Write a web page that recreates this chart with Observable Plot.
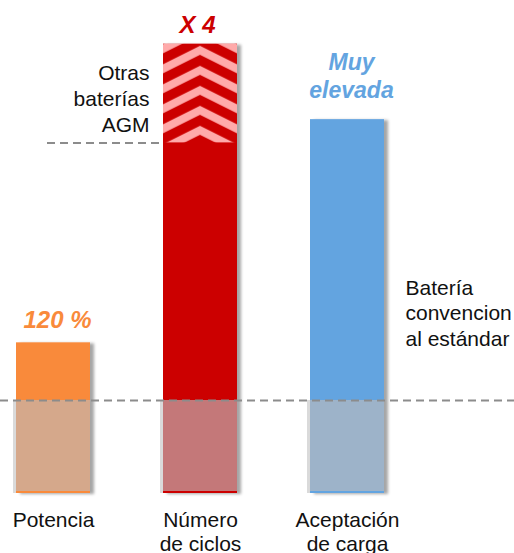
<!DOCTYPE html>
<html>
<head>
<meta charset="utf-8">
<script src="https://cdn.jsdelivr.net/npm/d3@7"></script>
<script src="https://cdn.jsdelivr.net/npm/@observablehq/plot@0.6"></script>
<style>
  html, body { margin: 0; padding: 0; background: #fff; }
  #chart svg { display: block; }
</style>
</head>
<body>
<div id="chart"></div>
<script>
// ---- data (100 = conventional standard battery) ----
const categories = ["Potencia", "Número de ciclos", "Aceptación de carga"];
const categoryLabels = ["Potencia", "Número\nde ciclos", "Aceptación\nde carga"];
const barValues = [162, 483, 402];
const valueLabels = ["120 %", "X 4", "Muy\nelevada"];
const conventionalLevel = 100;
const agmLevel = 377;
const agmLabel = "Otras\nbaterías\nAGM";
const conventionalLabel = "Batería\nconvencion\nal estándar";

// ---- styles ----
const barColors = ["#F98A3B", "#CC0000", "#63A4E0"];
const fadedColors = ["#D5A88B", "#C47879", "#9DB3C9"];

const rows = categories.map((c, i) => ({
  cat: c, value: barValues[i], label: valueLabels[i], axisLabel: categoryLabels[i],
  color: barColors[i], faded: fadedColors[i]
}));

const font = "'Liberation Sans', Arial, sans-serif";

const plot = Plot.plot({
  width: 514,
  height: 553,
  margin: 0,
  style: {fontFamily: font, background: "#fff", overflow: "hidden"},
  x: {type: "band", domain: categories, range: [-57.5, 457], paddingInner: 0.5, paddingOuter: 0.5, axis: null},
  y: {domain: [0, 100], range: [493, 400], axis: null},
  color: {type: "identity"},
  marks: [
    // AGM dashed level line (hidden behind the red bar)
    Plot.ruleY([{y: agmLevel, a: categories[0], b: categories[1]}],
      {y: "y", x1: "a", x2: "b", insetLeft: 31, stroke: "#8c8c8c", strokeWidth: 2, strokeDasharray: "8,5"}),
    // light grey left edge of faded lower part
    Plot.barY(rows, {x: "cat", y: () => conventionalLevel, fill: "#dadada", dx: -3}),
    // main bars
    Plot.barY(rows, {x: "cat", y: "value", fill: "color", ariaDescription: "main"}),
    // faded lower parts (conventional level)
    Plot.barY(rows, {x: "cat", y: () => conventionalLevel, fill: "faded", insetBottom: 2}),
    // chevron section of the red bar
    Plot.barY(rows.filter(d => d.cat === categories[1]),
      {x: "cat", y1: () => agmLevel, y2: "value", fill: "url(#chev)"}),
    // conventional dashed line
    Plot.ruleY([conventionalLevel], {stroke: "#8c8c8c", strokeWidth: 2, strokeDasharray: "8,5"}),
    // value labels above bars
    Plot.text([rows[0]], {x: "cat", y: "value", text: "label", dy: -15, dx: 4, lineAnchor: "bottom",
      fill: "#F98A3B", fontSize: 24, fontWeight: "bold", fontStyle: "italic"}),
    Plot.text([rows[1]], {x: "cat", y: "value", text: "label", dy: -11, dx: -3, lineAnchor: "bottom",
      fill: "#CC0000", fontSize: 24, fontWeight: "bold", fontStyle: "italic"}),
    Plot.text([rows[2]], {x: "cat", y: "value", text: "label", dy: -22, dx: 4, lineAnchor: "bottom", lineHeight: 1.22,
      fill: "#63A4E0", fontSize: 23, fontWeight: "bold", fontStyle: "italic"}),
    // side labels
    Plot.text([agmLabel], {x: () => categories[1], y: () => agmLevel, text: d => d, textAnchor: "end",
      dx: -51, dy: -11, lineAnchor: "bottom", lineHeight: 1.24, fontSize: 21, fill: "#111"}),
    Plot.text([conventionalLabel], {x: () => categories[2], y: () => conventionalLevel, text: d => d, textAnchor: "start",
      dx: 58, dy: -55, lineAnchor: "bottom", lineHeight: 1.21, fontSize: 21, fill: "#111"}),
    // category labels
    Plot.text(rows, {x: "cat", y: () => 0, text: "axisLabel", lineAnchor: "top", dy: 16, lineHeight: 1.15,
      fontSize: 21, fill: "#111"})
  ]
});

// pattern + shadow filter defs, positioned with the plot's own scales
const xs = plot.scale("x");
const ys = plot.scale("y");
const bw = xs.bandwidth;
const px = xs.apply(categories[1]);
const py = ys.apply(barValues[1]);
const svg = d3.select(plot);
const defs = svg.insert("defs", ":first-child");
const P = 20, drop = bw / 2 * 0.5, t = 9, a = 2;
const pat = defs.append("pattern").attr("id", "chev").attr("patternUnits", "userSpaceOnUse")
  .attr("x", px).attr("y", py).attr("width", bw).attr("height", P);
pat.append("rect").attr("width", bw).attr("height", P).attr("fill", "#CC0000");
for (let k = -2; k <= 1; k++) {
  const o = a + k * P;
  pat.append("polygon").attr("fill", "#FFAAAA").attr("points", [
    [0, o + drop], [bw / 2, o], [bw, o + drop], [bw, o + drop + t], [bw / 2, o + t], [0, o + drop + t]
  ].map(p => p.join(",")).join(" "));
}
const f = defs.append("filter").attr("id", "shadow").attr("x", "-20%").attr("y", "-5%").attr("width", "150%").attr("height", "110%");
f.append("feDropShadow").attr("dx", 4).attr("dy", 1).attr("stdDeviation", 1.8)
  .attr("flood-color", "#000").attr("flood-opacity", 0.35);
svg.selectAll("g[aria-description='main']").attr("filter", "url(#shadow)");

document.getElementById("chart").appendChild(plot);
</script>
</body>
</html>
